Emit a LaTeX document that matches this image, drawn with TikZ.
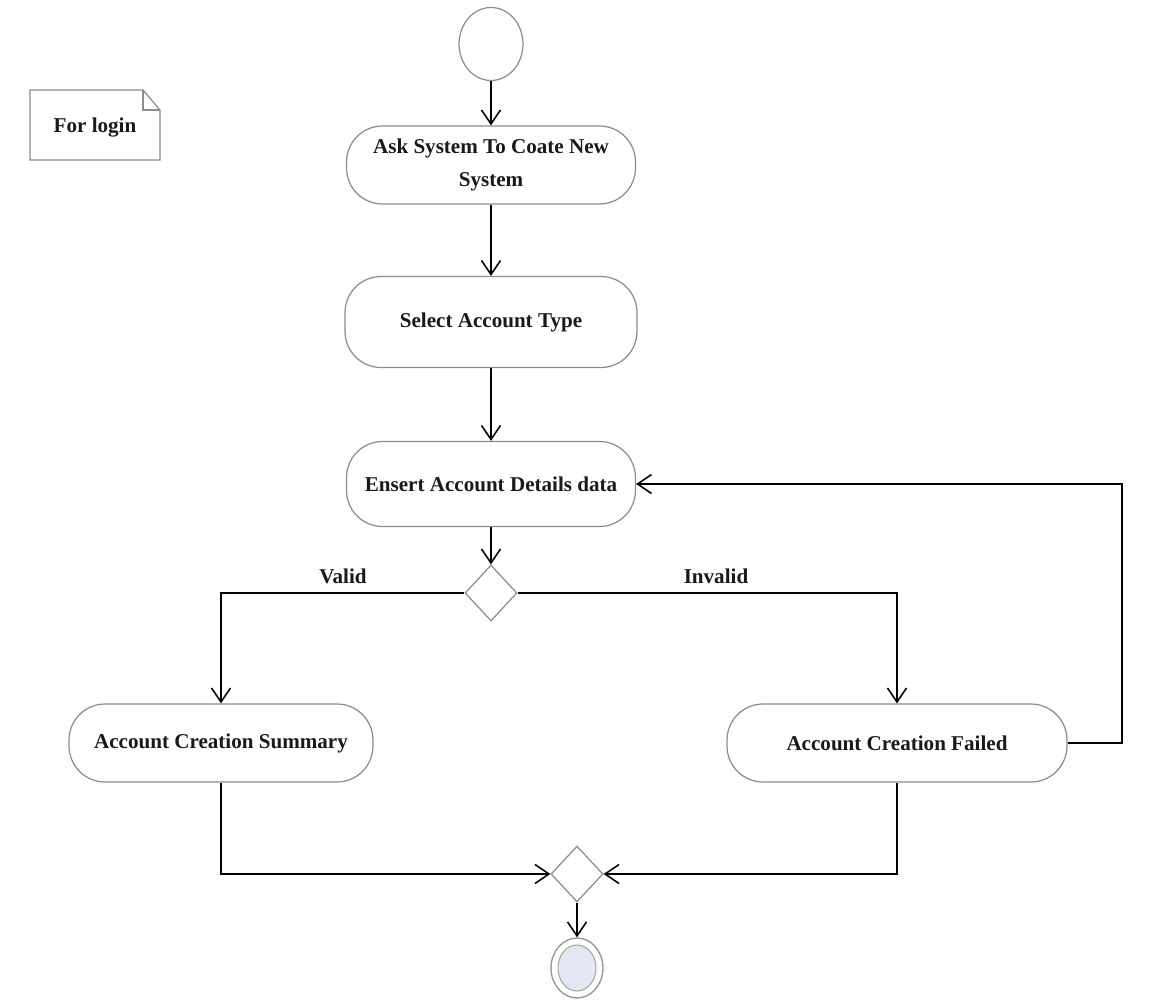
\documentclass[tikz,border=0pt]{standalone}
\usepackage{fontspec}
\setmainfont{Liberation Serif}
\usetikzlibrary{arrows.meta,shapes.geometric}
\begin{document}
\begin{tikzpicture}[x=0.02cm,y=-0.02cm,
  lbl/.style={font=\bfseries\fontsize{12}{19}\selectfont, text=black!90},
  act/.style={lbl, draw=black!45, line width=0.7pt, rounded corners=0.72cm,
    align=center, inner sep=0pt},
  decision/.style={diamond, draw=black!45, line width=0.7pt, inner sep=0pt,
    minimum width=1.04cm, minimum height=1.12cm},
  flow/.style={draw=black, line width=1.1pt,
    -{Straight Barb[length=0.28cm,width=0.38cm,line width=0.9pt]}}]
\useasboundingbox (0,0) rectangle (1157,1000);

% note with folded corner
\coordinate (nw) at (30,90);
\coordinate (se) at (160,160);
\node[lbl, inner sep=0pt] (note) at (95,128) {For login};
\draw[draw=black!45, line width=0.7pt]
  (nw) -- (143,90) -- (160,110) -- (se) -- (30,160) -- cycle;
\draw[draw=black!45, line width=0.7pt] (143,90) -- (143,110) -- (160,110);

% initial node
\node[ellipse, draw=black!45, line width=0.7pt, minimum width=1.28cm, minimum height=1.46cm, inner sep=0pt] (init) at (491,44) {};

% activities
\node[act, minimum width=5.78cm, minimum height=1.56cm] (a1) at (491,165) {Ask System To Coate New\\System};
\node[act, minimum width=5.84cm, minimum height=1.82cm] (a2) at (491,322) {Select Account Type};
\node[act, minimum width=5.78cm, minimum height=1.7cm] (a3) at (491,484) {Ensert Account Details data};
\node[decision] (d1) at (491,593) {};
\node[act, minimum width=6.08cm, minimum height=1.56cm] (sum) at (221,743) {Account Creation Summary};
\node[act, minimum width=6.8cm, minimum height=1.56cm] (fail) at (897,743) {Account Creation Failed};
\node[decision] (d2) at (577,874) {};

% final node
\node[ellipse, draw=black!40, fill=white, line width=0.8pt, minimum width=1.04cm, minimum height=1.2cm, inner sep=0pt] (final) at (577,968) {};
\node[ellipse, draw=black!35, fill={rgb,255:red,228;green,232;blue,242}, line width=0.6pt, minimum width=0.76cm, minimum height=0.92cm, inner sep=0pt] (finalcore) at (final.center) {};

% guard labels
\node[lbl] (valid) at (343,576) {Valid};
\node[lbl] (invalid) at (716,576) {Invalid};

% flows
\draw[flow] (init) -- (a1);
\draw[flow] (a1) -- (a2);
\draw[flow] (a2) -- (a3);
\draw[flow] (a3) -- (d1);
\draw[flow] (d1.west) -| (sum.north);
\draw[flow] (d1.east) -| (fail.north);
\draw[flow] (fail.east) -- ++(54,0) |- (a3.east);
\draw[flow] (sum.south) |- (d2.west);
\draw[flow] (fail.south) |- (d2.east);
\draw[flow] (d2) -- (final);
\end{tikzpicture}
\end{document}
